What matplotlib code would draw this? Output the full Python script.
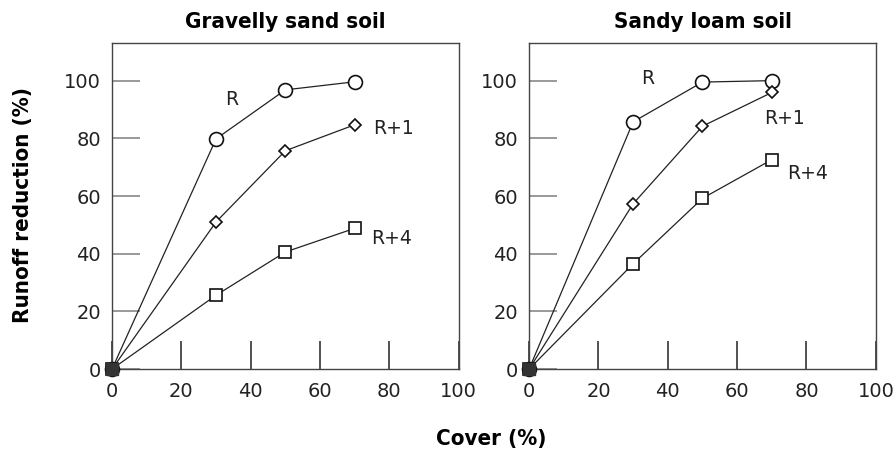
import matplotlib.pyplot as plt

cover = [0, 30, 50, 70]

# Gravelly sand soil
gs_r = [0, 79.8, 96.8, 99.6]
gs_r1 = [0, 51, 75.7, 84.7]
gs_r4 = [0, 25.6, 40.6, 48.8]

# Sandy loam soil
sl_r = [0, 85.7, 99.5, 100]
sl_r1 = [0, 57.3, 84.2, 95.9]
sl_r4 = [0, 36.5, 59.2, 72.6]

titles = ["Gravelly sand soil", "Sandy loam soil"]
series_names = ["R", "R+1", "R+4"]
markers = ["o", "D", "s"]
marker_sizes = [10, 6.5, 8.5]

# label anchor positions (data coords, left edge) for series names
label_pos = [
    [(32.5, 93.4), (75.2, 83.5), (74.7, 45.4)],
    [(32.2, 100.9), (67.9, 87), (74.4, 67.9)],
]

fig = plt.figure(figsize=(8.96, 4.54), dpi=100)
axes = [fig.add_axes([0.125, 0.187, 0.387, 0.718]),
        fig.add_axes([0.5905, 0.187, 0.387, 0.718])]

data = [[gs_r, gs_r1, gs_r4], [sl_r, sl_r1, sl_r4]]
bold_font = dict(family="DejaVu Sans", fontstretch="condensed", fontweight="bold")

for ax, title, panel, pos in zip(axes, titles, data, label_pos):
    for vals, m, ms, name, (lx, ly) in zip(panel, markers, marker_sizes, series_names, pos):
        ax.plot(cover, vals, color="#222222", lw=0.9, marker=m, ms=ms,
                mfc="white", mec="#111111", mew=1.2, clip_on=False, zorder=3)
        ax.text(lx, ly, name, fontsize=13.5, color="#222222", ha="left", va="center")
    ax.plot([0], [0], marker="s", ms=8, color="#333333", clip_on=False, zorder=4)
    ax.set_xlim(0, 100)
    ax.set_ylim(0, 113)
    ax.set_xticks([0, 20, 40, 60, 80, 100])
    ax.set_yticks([0, 20, 40, 60, 80, 100])
    ax.tick_params(axis="both", direction="in", length=20, width=1.2, labelsize=14,
                   labelcolor="#222222")
    ax.tick_params(axis="x", pad=9, color="#333333")
    ax.tick_params(axis="y", pad=8, color="#888888")
    for s in ax.spines.values():
        s.set_color("#444444")
        s.set_linewidth(1.0)
    ax.set_title(title, fontsize=16, pad=11, **bold_font)

fig.text(0.0257, 0.548, "Runoff reduction (%)", rotation=90, fontsize=16,
         ha="center", va="center", **bold_font)
fig.text(0.548, 0.033, "Cover (%)", fontsize=16, ha="center", va="center", **bold_font)

fig.savefig("out.png", dpi=100)
